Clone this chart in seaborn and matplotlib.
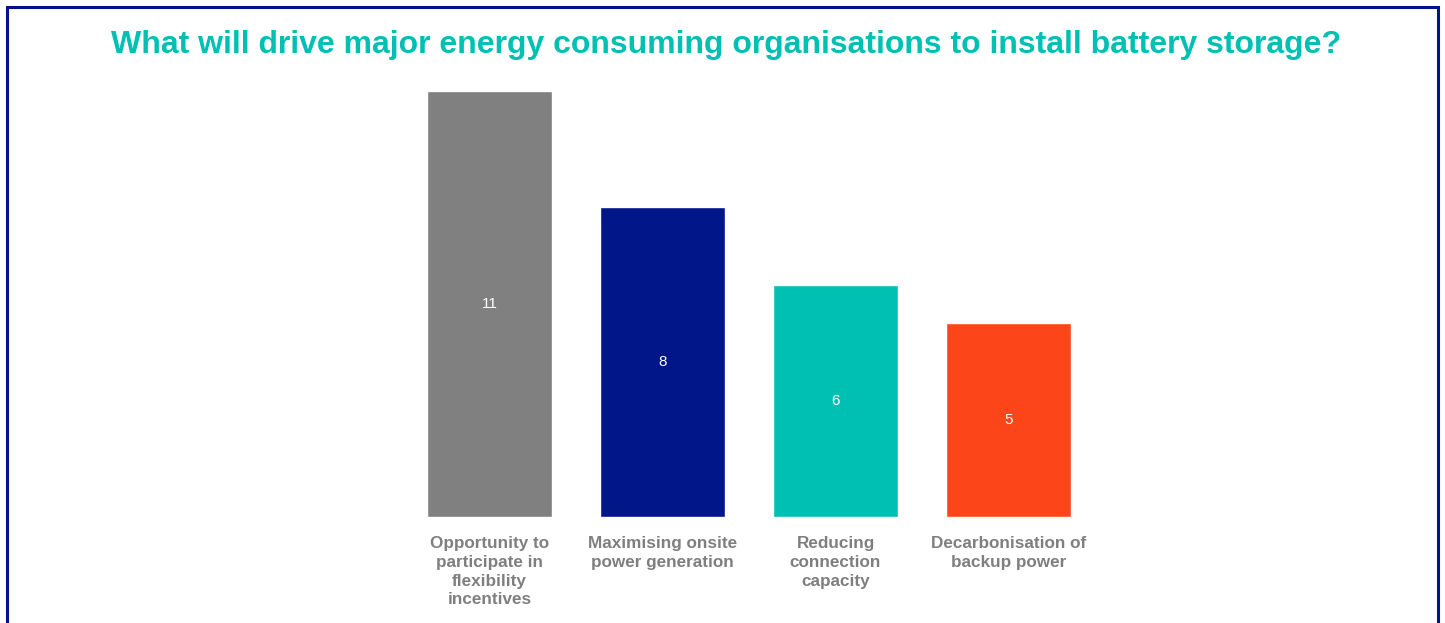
import matplotlib
matplotlib.use("Agg")
import matplotlib.pyplot as plt
import seaborn as sns
import pandas as pd
from matplotlib.patches import Rectangle

categories = ["Opportunity to\nparticipate in\nflexibility\nincentives",
              "Maximising onsite\npower generation",
              "Reducing\nconnection\ncapacity",
              "Decarbonisation of\nbackup power"]
values = [11, 8, 6, 5]
colors = ["#808080", "#001689", "#00BFB3", "#FC4619"]
title = "What will drive major energy consuming organisations to install battery storage?"

sns.set_theme(style="white")
plt.rcParams['font.family'] = ['Liberation Sans', 'DejaVu Sans']

W, H = 1445, 623
fig = plt.figure(figsize=(W / 100, H / 100), dpi=100)
fig.patch.set_facecolor("white")

# axes in pixel coords
left, right, bottom, top = 403, 1095, 517, 91
ax = fig.add_axes([left / W, (H - bottom) / H, (right - left) / W, (bottom - top) / H])

df = pd.DataFrame({"cat": categories, "val": values})
sns.barplot(data=df, x="cat", y="val", hue="cat", palette=colors, legend=False,
            width=0.72, ax=ax, saturation=1)
ax.set_xlim(-0.5, 3.5)
ax.set_ylim(0, 11)
ax.set_xlabel("")
ax.set_ylabel("")
ax.set_yticks([])
for s in ax.spines.values():
    s.set_visible(False)
ax.tick_params(axis="x", length=0, pad=14)
ax.set_xticks(range(len(categories)))
ax.set_xticklabels(categories, fontsize=12.3, fontweight="bold", color="#7F7F7F",
                   linespacing=1.3, va="top")

for i, v in enumerate(values):
    ax.text(i, v / 2, str(v), ha="center", va="center", color="white", fontsize=11)

fig.text(726 / W, (H - 45) / H, title, ha="center", va="center", color="#00BFB3",
         fontsize=23, fontweight="bold")

# dark blue frame
fig.patches.append(Rectangle((7 / W, -0.1), (1438 - 7) / W, (H - 7) / H + 0.1,
                             transform=fig.transFigure, fill=False,
                             edgecolor="#001489", linewidth=2.2))

fig.savefig("out.png", dpi=100, facecolor="white")
